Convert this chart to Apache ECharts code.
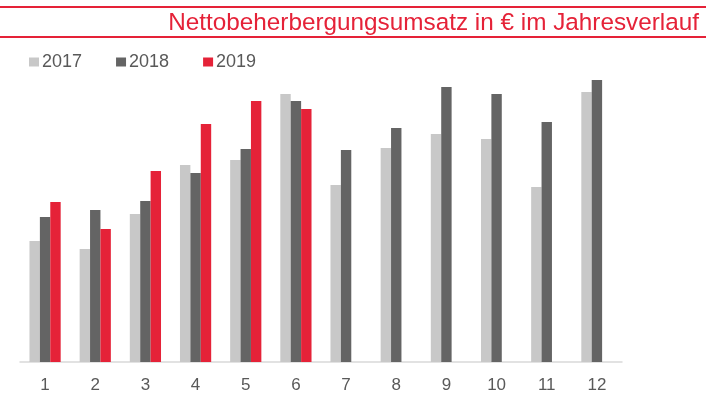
<!DOCTYPE html>
<html>
<head>
    <meta charset="utf-8">
    <title>Nettobeherbergungsumsatz</title>
    <script src="https://cdn.jsdelivr.net/npm/echarts@6/dist/echarts.min.js"></script>
    <style>
        html, body { margin: 0; padding: 0; background: #fff; }
        #chart { width: 706px; height: 420px; }
    </style>
</head>
<body>
<div id="chart"></div>
<script>
    // months 1..12
    var months = ['1', '2', '3', '4', '5', '6', '7', '8', '9', '10', '11', '12'];
    // values (relative units, no axis scale in the source)
    var v2017 = [121, 113, 148, 197, 202, 268, 177, 214, 228, 223, 175, 270];
    var v2018 = [145, 152, 161, 189, 213, 261, 212, 234, 275, 268, 240, 282];
    var v2019 = [160, 133, 191, 238, 261, 253, null, null, null, null, null, null];

    var red = '#e52238';
    var chart = echarts.init(document.getElementById('chart'));
    var option = {
        animation: false,
        title: {
            text: 'Nettobeherbergungsumsatz in € im Jahresverlauf',
            right: 2,
            top: 6,
            textStyle: {
                color: red,
                fontFamily: 'Liberation Sans, Arial, sans-serif',
                fontSize: 24.3,
                fontWeight: 'normal'
            }
        },
        graphic: [
            { type: 'line', shape: { x1: 0, y1: 7, x2: 706, y2: 7 }, style: { stroke: red, lineWidth: 2 } },
            { type: 'line', shape: { x1: 0, y1: 37, x2: 706, y2: 37 }, style: { stroke: red, lineWidth: 2 } }
        ],
        legend: {
            left: 24,
            top: 48,
            icon: 'rect',
            itemWidth: 10,
            itemHeight: 9,
            itemGap: 34,
            textStyle: {
                color: '#595959',
                fontFamily: 'Liberation Sans, Arial, sans-serif',
                fontSize: 18,
                padding: [0, 0, 0, -2]
            },
            data: ['2017', '2018', '2019']
        },
        grid: {
            left: 20,
            right: 84,
            top: 62,
            bottom: 58
        },
        xAxis: {
            type: 'category',
            data: months,
            axisLine: { lineStyle: { color: '#d9d9d9', width: 1.5 } },
            axisTick: { show: false },
            axisLabel: {
                color: '#595959',
                fontFamily: 'Liberation Sans, Arial, sans-serif',
                fontSize: 17,
                margin: 15
            }
        },
        yAxis: {
            type: 'value',
            min: 0,
            max: 300,
            show: false,
            splitLine: { show: false }
        },
        series: [
            { name: '2017', type: 'bar', data: v2017, barWidth: 10.4, barGap: '0%', itemStyle: { color: '#c8c8c8' } },
            { name: '2018', type: 'bar', data: v2018, barWidth: 10.4, barGap: '0%', itemStyle: { color: '#646464' } },
            { name: '2019', type: 'bar', data: v2019, barWidth: 10.4, barGap: '0%', itemStyle: { color: red } }
        ]
    };
    chart.setOption(option);
</script>
</body>
</html>
